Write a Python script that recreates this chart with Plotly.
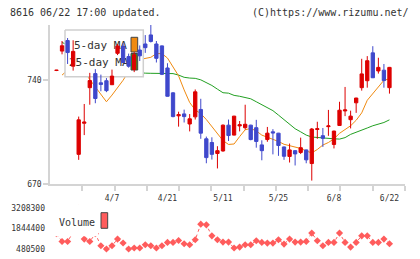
import plotly.graph_objects as go

# ---------------- data ----------------
date_labels = ["4/7", "4/21", "5/11", "5/25", "6/8", "6/22"]
date_pos = [10, 20, 30, 40, 50, 60]

opens = [746.6, 759.7, 766.8, 749.5, 690.0, 711.0, 735.0, 744.5, 738.3, 739.7,
         737.0, 758.2, 763.0, 756.0, 747.3, 760.4, 764.5, 770.6, 764.5, 763.2,
         748.3, 731.5, 716.0, 717.3, 710.5, 715.3, 720.3, 700.5, 698.0, 690.6,
         692.3, 709.7, 703.0, 709.2, 708.0, 709.7, 708.0, 696.4, 700.0, 705.2,
         704.3, 695.0, 688.6, 692.5, 691.3, 693.0, 683.8, 706.8, 702.6, 708.7,
         696.7, 709.5, 719.3, 713.4, 724.8, 735.0, 739.7, 758.5, 746.3, 746.8,
         735.0]
highs = [747.0, 766.5, 768.5, 767.0, 715.5, 724.0, 745.0, 747.5, 743.8, 741.5,
         747.2, 764.5, 765.0, 758.0, 759.0, 763.5, 770.5, 777.3, 766.5, 763.5,
         751.5, 732.0, 718.8, 720.2, 717.2, 733.8, 727.5, 702.0, 701.5, 695.5,
         710.2, 713.5, 716.0, 712.5, 723.5, 710.0, 713.3, 699.5, 708.5, 707.0,
         704.5, 695.3, 697.3, 692.8, 701.3, 693.2, 707.8, 712.0, 707.8, 720.0,
         706.0, 725.5, 735.5, 719.5, 728.2, 754.5, 756.3, 763.0, 755.2, 751.0,
         749.0]
lows = [746.2, 757.5, 751.0, 746.5, 686.3, 703.0, 723.5, 724.5, 732.6, 732.0,
        736.8, 757.0, 751.5, 748.5, 745.5, 753.0, 758.5, 765.5, 752.0, 743.5,
        729.0, 715.0, 708.7, 711.5, 705.5, 713.5, 700.5, 684.0, 686.5, 680.5,
        691.8, 699.0, 702.8, 705.5, 706.7, 699.5, 694.5, 686.0, 698.5, 690.0,
        689.0, 686.3, 684.5, 682.5, 690.2, 684.0, 672.3, 700.5, 695.0, 702.5,
        694.0, 709.2, 715.8, 707.5, 718.0, 733.0, 735.0, 741.5, 744.5, 735.0,
        731.0]
closes = [746.8, 763.3, 758.7, 759.5, 713.3, 711.8, 739.8, 727.7, 737.2, 733.0,
          742.8, 763.1, 752.0, 749.5, 757.2, 756.5, 762.0, 766.2, 754.8, 744.0,
          729.2, 715.5, 716.8, 715.5, 714.0, 732.2, 704.3, 687.8, 690.0, 692.5,
          709.7, 702.7, 715.8, 710.0, 710.3, 700.0, 698.7, 692.5, 704.3, 704.5,
          696.0, 688.7, 693.0, 690.3, 694.5, 686.3, 707.1, 707.3, 700.8, 709.2,
          705.7, 719.8, 720.0, 715.8, 728.0, 744.3, 753.2, 741.7, 748.7, 739.8,
          748.7]
ma5 = [None, 743.5, 747.0, 750.0, 749.0, 746.0, 740.5, 735.5, 730.0, 725.5,
       730.0, 735.0, 740.0, 746.0, 751.0, 754.0, 755.0, 755.5, 758.0, 758.0,
       755.0, 748.5, 743.0, 733.5, 725.0, 720.0, 717.5, 713.5, 708.5, 704.0,
       699.3, 696.7, 697.0, 702.0, 706.6, 707.5, 705.8, 703.0, 701.5, 700.5,
       698.7, 696.8, 696.0, 695.0, 694.0, 692.3, 691.0, 693.3, 696.3, 698.0,
       700.5, 704.2, 706.5, 709.3, 713.0, 718.0, 726.5, 731.0, 735.3, 740.0,
       741.0]
ma25 = [None, 765.5, 764.0, 763.0, 761.0, 759.5, 758.0, 756.0, 754.0, 752.0,
        750.5, 749.0, 747.5, 746.5, 745.5, 745.0, 744.8, 744.7, 744.7, 744.7,
        744.7, 744.5, 743.5, 742.0, 741.5, 741.3, 740.3, 738.5, 736.5, 734.0,
        731.6, 731.3, 729.8, 729.2, 728.3, 727.5, 725.5, 723.5, 721.5, 719.5,
        716.5, 713.5, 710.0, 707.3, 705.2, 703.0, 701.7, 701.3, 701.0, 701.0,
        700.5, 700.3, 701.3, 703.5, 704.8, 706.0, 707.8, 709.3, 710.5, 711.5,
        713.3]
volume = [1500000, 986000, 986000, 1600000, 3208300, 1147000, 986000, 1500000, 700000, 480500,
          700000, 1147000, 880000, 480500, 547000, 547000, 767000, 700000, 547000, 700000,
          920000, 920000, 1053000, 833000, 767000, 1100000, 2144000, 2100000, 1365000, 1100000,
          946000, 946000, 545000, 611000, 767000, 767000, 1033000, 921000, 878000, 878000,
          1100000, 811000, 1146000, 946000, 946000, 988000, 1545000, 1033000, 700000, 921000,
          921000, 1545000, 921000, 611000, 921000, 1365000, 1365000, 921000, 921000, 1146000,
          833000]
vol_ticks = [480500, 1844400, 3208300]
price_ticks = [670, 740]

idx = list(range(len(closes)))

# ---------------- geometry helpers (decoration only) ----------------
W, H = 420, 259
ML, MR, MT, MB = 50, 15, 25, 10
PW, PH = W - ML - MR, H - MT - MB
X0, X1 = -1.17, 62.8
Y0, Y1 = 670, 777.3
MAIN_TOP, MAIN_BOT = 25, 184
VOL_TOP = 208.3

def px2x(px):
    return X0 + (px - ML) * (X1 - X0) / PW

def py2y(py):
    return Y0 + (MAIN_BOT - py) * (Y1 - Y0) / (MAIN_BOT - MAIN_TOP)

def pxp(px):
    return (px - ML) / PW

def pyp(py):
    return (H - MB - py) / PH

def rect(x0, x1, y0, y1):
    xs = [px2x(x0), px2x(x1), px2x(x1), px2x(x0), px2x(x0)]
    ys = [py2y(y0), py2y(y0), py2y(y1), py2y(y1), py2y(y0)]
    return xs, ys

RED = "#dd0000"
BLUE = "#3f48cc"
ORANGE = "#f08a10"
GREEN = "#22a022"
VOLC = "#ff5c5c"
TXT = "#333333"
AX = "#d4d4d4"
MONO = "DejaVu Sans Mono"

fig = go.Figure()

# moving averages (main subplot, below legend box)
fig.add_trace(go.Scatter(x=idx, y=ma25, mode="lines", line=dict(color=GREEN, width=1),
                         xaxis="x", yaxis="y", hoverinfo="skip"))
fig.add_trace(go.Scatter(x=idx, y=ma5, mode="lines", line=dict(color=ORANGE, width=1),
                         xaxis="x", yaxis="y", hoverinfo="skip"))

# legend box (hides MA lines, candles drawn above)
bx, by = rect(65, 143.3, 30, 76.7)
fig.add_trace(go.Scatter(x=bx, y=by, mode="lines", fill="toself", fillcolor="white",
                         line=dict(color="#cfcfcf", width=1.5), xaxis="x", yaxis="y",
                         hoverinfo="skip"))
sx, sy = rect(131, 137.7, 37.3, 52)
fig.add_trace(go.Scatter(x=sx, y=sy, mode="lines", fill="toself", fillcolor=ORANGE,
                         line=dict(color="#444444", width=1), xaxis="x", yaxis="y",
                         hoverinfo="skip"))
sx, sy = rect(131, 137.7, 53.5, 70)
fig.add_trace(go.Scatter(x=sx, y=sy, mode="lines", fill="toself", fillcolor=GREEN,
                         line=dict(color="#444444", width=1), xaxis="x", yaxis="y",
                         hoverinfo="skip"))
fig.add_trace(go.Scatter(x=[px2x(74), px2x(69)], y=[py2y(46), py2y(63.5)],
                         mode="text", text=["5-day MA", "25-day MA"],
                         textposition="middle right",
                         textfont=dict(family=MONO, size=11, color=TXT),
                         xaxis="x", yaxis="y", hoverinfo="skip"))

# candlesticks on an overlaying subplot (drawn above the legend box)
fig.add_trace(go.Candlestick(
    x=idx, open=opens, high=highs, low=lows, close=closes,
    increasing=dict(line=dict(color=RED, width=1), fillcolor=RED),
    decreasing=dict(line=dict(color=BLUE, width=1), fillcolor=BLUE),
    whiskerwidth=0, xaxis="x3", yaxis="y3", hoverinfo="skip"))

# volume
fig.add_trace(go.Scatter(x=idx, y=volume, mode="lines+markers",
                         line=dict(color=VOLC, width=1, dash="dot"),
                         marker=dict(symbol="diamond", size=5.5, color=VOLC),
                         cliponaxis=False, xaxis="x2", yaxis="y2", hoverinfo="skip"))

tick_x = [X0 + k * (X1 - X0) / 11 for k in range(1, 11)] + [X1 - 1e-6]

main_dom = [pyp(MAIN_BOT), 1.0]
vol_dom = [0.0, pyp(VOL_TOP)]

fig.update_layout(
    width=W, height=H, autosize=False,
    margin=dict(l=ML, r=MR, t=MT, b=MB, pad=0, autoexpand=False),
    paper_bgcolor="white", plot_bgcolor="white",
    showlegend=False, boxgap=0.15,
    font=dict(family=MONO, size=8, color=TXT),
    xaxis=dict(domain=[0, 1], anchor="y", range=[X0, X1], showgrid=False, zeroline=False,
               showline=True, linecolor=AX, linewidth=1.5, automargin=False,
               tickmode="array", tickvals=tick_x, showticklabels=False,
               ticks="outside", ticklen=5, tickcolor=AX, tickwidth=1.5,
               rangeslider=dict(visible=False), fixedrange=True),
    yaxis=dict(domain=main_dom, anchor="x", range=[Y0, Y1], showgrid=False, zeroline=False,
               showline=True, linecolor=AX, linewidth=1.5, automargin=False,
               tickmode="array", tickvals=price_ticks,
               ticktext=[str(v) for v in price_ticks],
               ticks="outside", ticklen=5, tickcolor=AX, tickwidth=1.5,
               tickfont=dict(family=MONO, size=8, color=TXT)),
    xaxis3=dict(overlaying="x", anchor="y3", range=[X0, X1], showgrid=False,
                zeroline=False, showline=False, ticks="", automargin=False,
                tickmode="array", tickvals=date_pos, ticktext=date_labels,
                tickfont=dict(family=MONO, size=8, color=TXT),
                ticklabelstandoff=8, side="bottom",
                rangeslider=dict(visible=False)),
    yaxis3=dict(overlaying="y", anchor="x3", range=[Y0, Y1], visible=False,
                automargin=False),
    xaxis2=dict(domain=[0, 1], anchor="y2", range=[X0, X1], visible=False,
                automargin=False, rangeslider=dict(visible=False)),
    yaxis2=dict(domain=vol_dom, anchor="x2", range=[vol_ticks[0], vol_ticks[-1]],
                showgrid=False, zeroline=False, showline=False, ticks="",
                automargin=False,
                tickmode="array", tickvals=vol_ticks,
                ticktext=[str(v) for v in vol_ticks],
                tickfont=dict(family=MONO, size=8, color=TXT),
                ticklabelstandoff=4),
    shapes=[
        dict(type="rect", xref="paper", yref="paper", layer="above",
             x0=pxp(52), x1=pxp(98), y0=pyp(236.3), y1=pyp(204.5),
             fillcolor="white", line=dict(width=0)),
        dict(type="rect", xref="paper", yref="paper", layer="above",
             x0=pxp(101), x1=pxp(107.7), y0=pyp(228.3), y1=pyp(212.7),
             fillcolor=VOLC, line=dict(color="#444444", width=1)),
    ],
    annotations=[
        dict(text="8616 06/22 17:00 updated.", xref="paper", yref="paper",
             x=pxp(8), y=pyp(12.7), xanchor="left", yanchor="middle", showarrow=False,
             font=dict(family=MONO, size=10, color=TXT)),
        dict(text="(C)https://www.rizumu.net/", xref="paper", yref="paper",
             x=pxp(411), y=pyp(12.7), xanchor="right", yanchor="middle", showarrow=False,
             font=dict(family=MONO, size=10, color=TXT)),
        dict(text="Volume", xref="paper", yref="paper",
             x=pxp(57), y=pyp(222.3), xanchor="left", yanchor="middle", showarrow=False,
             font=dict(family=MONO, size=10, color=TXT)),
    ],
)

fig.write_html("out.html")
